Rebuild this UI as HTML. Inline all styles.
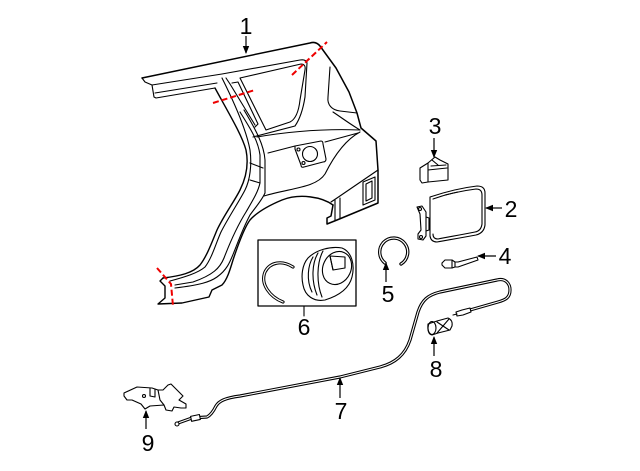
<!DOCTYPE html>
<html><head><meta charset="utf-8"><style>
html,body{margin:0;padding:0;background:#fff;}
svg{display:block;}
text{font-family:"Liberation Sans",Arial,sans-serif;font-size:23px;fill:#000;}
</style></head><body>
<svg width="640" height="471" viewBox="0 0 640 471" xmlns="http://www.w3.org/2000/svg">
<defs>
<marker id="ah" markerWidth="8" markerHeight="8" refX="7" refY="4" orient="auto" markerUnits="userSpaceOnUse">
<path d="M0,0.8 L8,4 L0,7.2 Z" fill="#000"/>
</marker>
</defs>
<g fill="none" stroke="#000" stroke-width="1.1" stroke-linejoin="round" stroke-linecap="round">
<!-- Quarter panel outer -->
<path stroke-width="1.5" d="M142,78 L310,43 Q316,41 320,46 L336,68 L349,92 L357,113 L361,128 L376,141 L378,170 L378,203 L337,220 L327,224 L327,218 L331,216 L333,205"/>
<!-- roof rail -->
<path d="M142,78 L145,82 L152,85 L154,97 L156,98 L215,88"/>
<path d="M152,85 L222,74 L300,60 Q306,59 307,63"/>
<path d="M155,93 L217,83"/>
<!-- window -->
<path d="M240,78 L301,64 Q306,64 305,70 L300,100 Q298,118 290,122 L266,130 Z"/>
<path d="M307,63 L305,97 Q302,116 295,126 L253,137"/>
<path d="M226,78 L230,84 L255,125"/>
<path d="M232,83 L238,82 L258,124 L255,127"/>
<!-- pillar lines -->
<path stroke-width="1.4" d="M215,88 C228,112 242,135 246,150 C249,165 246,178 240,190 C234,202 224,215 217,230 C212,242 207,256 200,265 C193,273 180,276 163,278"/>
<path d="M222,78 C233,100 246,128 250,150 C252,165 250,180 245,190 C240,200 228,218 221,232 C216,243 212,258 205,267 C198,273 185,277 170,281"/>
<path d="M240,112 C250,128 258,140 260,155 L260,183 C258,192 253,200 246,212 C236,228 229,245 224,258 C220,268 213,275 193,282 L175,285"/>
<path d="M244,110 C256,130 264,145 265,160 L265,193 C262,200 255,208 250,215 C243,228 238,242 234,252 C230,262 227,270 217,277 C210,282 200,285 175,288"/>
<path d="M250,163 L263,168 M250,180 L260,183"/>
<!-- wheel arch -->
<path stroke-width="1.4" d="M333,205 C322,197 300,193 282,200 C270,205 258,211 250,220 C244,228 238,245 233,260 C230,270 227,280 222,285 L212,290 L209,297 L182,303 L158,304 L165,298 L165,286 L160,281 L163,278"/>
<!-- upper creases -->
<path d="M257,137 Q310,128 360,130"/>
<path d="M268,153 L295,146"/>
<path d="M325,142 L358,133"/>
<path d="M264,196 C290,188 316,188 325,174 C334,156 345,140 360,132"/>
<!-- tail lamp area -->
<path d="M330,67 L328,97 C327,105 332,110 340,111 L357,113"/>
<path d="M333,112 C342,118 350,124 360,130"/>
<!-- fuel door recess -->
<path d="M295,146 L321,141 Q323,141 323,144 L326,159 Q326,162 323,162 L304,167 Q301,168 301,165 L295,149 Z"/>
<circle cx="310" cy="154" r="7.5"/>
<circle cx="298.5" cy="149.5" r="1.5"/>
<circle cx="303.5" cy="163" r="1.5"/>
<!-- bumper part -->
<path d="M378,170 L337,198 L331,202"/>
<path d="M335,200 L335,220 M340,198 L340,218"/>
<path d="M363,182 L375,177 L375,200 L363,205 Z"/>
<path d="M366,184 L372,181 L372,198 L366,201 Z"/>
</g>
<!-- red dashed -->
<g fill="none" stroke="#e00" stroke-width="2" stroke-dasharray="6,3">
<path d="M292,75 L327,42"/>
<path d="M213,103 L255,90"/>
<path d="M157,268 L171,284 L173,306"/>
</g>

<g fill="none" stroke="#000" stroke-width="1.1" stroke-linejoin="round" stroke-linecap="round">
<!-- part 3 clip -->
<path fill="#fff" d="M420,168 L428,163 L435,157 L440,160 L448,164 L448,180 L428,182 L422,183 L420,180 Z"/>
<path d="M428,163 L428,182 M428,170 L447,168 M431,166 L446,165 M432,160 L438,165"/>
<!-- part 2 fuel door -->
<path fill="#fff" d="M430,197 C442,193 460,188 477,186 Q485,186 485,193 L485,225 Q484,233 476,235 C460,238 448,240 437,242 Q431,242 430,236 Z"/>
<path d="M433,199 C444,195 460,191 476,189 Q482,189 482,195 L482,224 Q481,231 475,232 C460,235 448,237 438,239 Q433,239 433,234"/>
<path d="M445,195 L458,192"/>
<path fill="#fff" d="M417,207 L422,206 L426,212 L426,236 L423,240 L418,239 L418,234 L421,230 L420,214 Z"/>
<circle cx="420" cy="209" r="1.5"/>
<circle cx="421" cy="237" r="1.5"/>
<path d="M426,217 L429,218 L429,230 L426,231"/>
<!-- part 5 ring -->
<path stroke-width="3.4" d="M385,263 A14,14 0 1 1 401,264"/>
<path stroke="#fff" stroke-width="1.2" d="M385,263 A14,14 0 1 1 401,264"/>
<!-- part 4 pin -->
<path fill="#fff" d="M442,263 L445,260 L452,260 L455,262 L458,262 L477,257 L478,260 L458,267 L455,267 L452,268 L445,268 L442,265 Z"/>
<path d="M452,260 L452,268 M455,262 L455,267"/>
<!-- part 6 box -->
<rect x="258" y="240" width="98" height="66" stroke-width="1.3"/>
<path d="M304,306 L304,316"/>
<path stroke-width="3.2" d="M293,267 C282,260 270,262 265,272 C260,284 270,297 283,302"/>
<path stroke="#fff" stroke-width="1.2" d="M293,267 C282,260 270,262 265,272 C260,284 270,297 283,302"/>
<path fill="#fff" d="M308,258 C316,250 330,246 342,248 C352,252 355,265 352,277 C349,289 338,296 325,300 C314,302 305,296 303,285 C301,276 302,265 308,258 Z"/>
<path d="M313,257 C308,265 306,280 312,292"/>
<path d="M318,253 C312,263 311,280 317,295"/>
<path d="M323,251 C317,262 316,282 322,297"/>
<ellipse cx="337" cy="268" rx="14" ry="17" transform="rotate(25 337 268)"/>
<path d="M330,256 L345,257 L345,268 L333,270 Z"/>
<path d="M330,256 L333,270"/>
<!-- cable 7 -->
<path stroke-width="3.2" d="M178,423 L192,418 L207,417 C211,415 214,410 216,406 C219,401 225,398 240,396 L340,377 L380,367 C395,363 405,355 410,340 L418,312 C422,300 428,295 440,292 L497,280 C505,278 510,283 510,290 C510,298 505,300 498,302 L470,310"/>
<path stroke="#fff" stroke-width="1.1" d="M178,423 L192,418 L207,417 C211,415 214,410 216,406 C219,401 225,398 240,396 L340,377 L380,367 C395,363 405,355 410,340 L418,312 C422,300 428,295 440,292 L497,280 C505,278 510,283 510,290 C510,298 505,300 498,302 L470,310"/>
<circle cx="177" cy="424" r="2" fill="#fff"/>
<rect x="191" y="415.5" width="9" height="5" fill="#fff" transform="rotate(-12 195 418)"/>
<path fill="#fff" d="M456,312 L462,310 L470,308 L471,312 L463,315 L457,316 Z"/>
<path d="M453,315 L457,314"/>
<!-- part 8 -->
<path fill="#fff" d="M428,324 L437,321 L448,318 Q453,320 452,326 L450,330 L438,333 L432,335 Q427,334 428,324 Z"/>
<ellipse cx="432" cy="328" rx="4" ry="6.5"/>
<path d="M437,322 L449,330 M437,333 L449,319"/>
<!-- part 9 bracket -->
<path fill="#fff" d="M124,393 L137,387 L152,388 L158,390 L163,390 L168,385 L171,384 L180,393 L183,396 L179,400 L186,404 L186,408 L181,408 L174,407 L172,411 L166,410 L164,405 L150,406 L145,409 L141,404 L132,400 L127,400 L124,396 Z"/>
<path d="M150,388 L150,396 L155,397 L155,389"/>
<circle cx="144" cy="396" r="1.5"/>
<path d="M158,390 L160,400 L164,405"/>
</g>

<!-- leader arrows -->
<g stroke="#000" stroke-width="1.2" fill="none">
<line x1="246" y1="36" x2="246" y2="53" marker-end="url(#ah)"/>
<line x1="502" y1="208" x2="486" y2="208" marker-end="url(#ah)"/>
<line x1="434" y1="138" x2="434" y2="157" marker-end="url(#ah)"/>
<line x1="496" y1="256" x2="478" y2="256" marker-end="url(#ah)"/>
<line x1="386" y1="282" x2="386" y2="263" marker-end="url(#ah)"/>
<line x1="340" y1="398" x2="340" y2="378" marker-end="url(#ah)"/>
<line x1="434" y1="356" x2="434" y2="337" marker-end="url(#ah)"/>
<line x1="146" y1="429" x2="146" y2="411" marker-end="url(#ah)"/>
</g>

<!-- labels -->
<text x="246" y="34" text-anchor="middle">1</text>
<text x="511" y="217" text-anchor="middle">2</text>
<text x="435" y="134" text-anchor="middle">3</text>
<text x="505" y="264" text-anchor="middle">4</text>
<text x="388" y="302" text-anchor="middle">5</text>
<text x="304" y="335" text-anchor="middle">6</text>
<text x="341" y="419" text-anchor="middle">7</text>
<text x="436" y="377" text-anchor="middle">8</text>
<text x="148" y="451" text-anchor="middle">9</text>
</svg>
</body></html>
